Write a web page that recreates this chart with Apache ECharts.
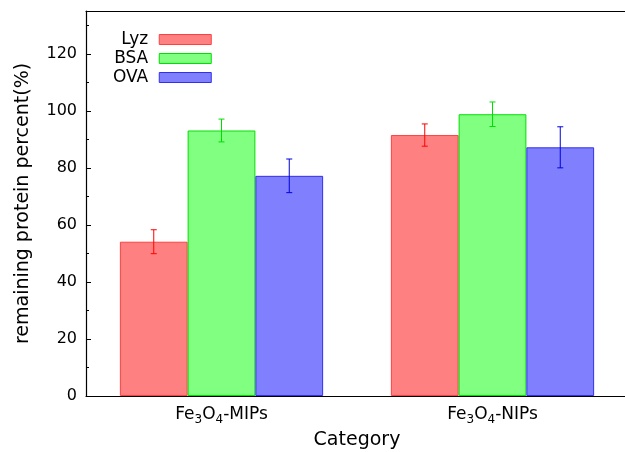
<!DOCTYPE html>
<html>
<head>
<meta charset="utf-8">
<script src="https://cdn.jsdelivr.net/npm/echarts@6/dist/echarts.min.js"></script>
<style>
  html, body { margin: 0; padding: 0; background: #fff; }
  #main { width: 625px; height: 452px; }
</style>
</head>
<body>
<div id="main"></div>
<script>
// data
var categories = ['Fe3O4-MIPs', 'Fe3O4-NIPs'];
var proteins = ['Lyz', 'BSA', 'OVA'];
var lyz = [54.1, 91.5];
var lyzErr = [4.2, 3.9];
var bsa = [93.1, 98.8];
var bsaErr = [4.0, 4.3];
var ova = [77.2, 87.2];
var ovaErr = [5.9, 7.2];
var yTicks = [0, 20, 40, 60, 80, 100, 120];

var fills = ['#ff8080', '#80ff80', '#8080ff'];
var borders = ['#ff4040', '#00e000', '#3030ee'];
var errColors = ['#ff0000', '#00dd00', '#0000dd'];
var FONT = 'DejaVu Sans';

var myChart = echarts.init(document.getElementById('main'));

function errSeries(idx, vals, errs) {
    return {
        type: 'custom',
        name: proteins[idx] + ' err',
        z: 5,
        data: vals.map(function (v, i) { return [i, v, errs[i]]; }),
        renderItem: function (params, api) {
            var ci = api.value(0);
            var v = api.value(1);
            var e = api.value(2);
            var band = api.size([1, 0])[0];
            var off = (idx - 1) * band * 0.25;
            var top = api.coord([ci, v + e]);
            var bot = api.coord([ci, v - e]);
            var x = top[0] + off;
            var cap = 3;
            var st = { stroke: errColors[idx], lineWidth: 1 };
            return {
                type: 'group',
                children: [
                    { type: 'line', shape: { x1: x, y1: top[1], x2: x, y2: bot[1] }, style: st },
                    { type: 'line', shape: { x1: x - cap, y1: top[1], x2: x + cap, y2: top[1] }, style: st },
                    { type: 'line', shape: { x1: x - cap, y1: bot[1], x2: x + cap, y2: bot[1] }, style: st }
                ]
            };
        }
    };
}

function barSeries(idx, vals) {
    return {
        type: 'bar',
        name: proteins[idx],
        data: vals,
        barGap: '0%',
        barCategoryGap: '25%',
        itemStyle: { color: fills[idx], borderColor: borders[idx], borderWidth: 1 }
    };
}

var option = {
    backgroundColor: '#fff',
    animation: false,
    textStyle: { fontFamily: FONT },
    grid: { left: 86, top: 11, width: 542, height: 385, outerBoundsMode: 'none' },
    legend: {
        orient: 'vertical',
        left: 108,
        top: 26,
        align: 'right',
        icon: 'rect',
        itemWidth: 52,
        itemHeight: 10,
        itemGap: 2,
        data: proteins,
        itemStyle: { borderWidth: 1 },
        textStyle: { fontFamily: FONT, fontSize: 17, color: '#000', padding: [0, 6, 0, 0] }
    },
    xAxis: [{
        type: 'category',
        data: categories,
        name: 'Category',
        nameLocation: 'middle',
        nameGap: 35,
        nameTextStyle: { fontFamily: FONT, fontSize: 19, color: '#000' },
        axisLine: { lineStyle: { color: '#000', width: 1.2 } },
        axisTick: { show: false },
        axisLabel: {
            interval: 0,
            hideOverlap: false,
            margin: 8,
            color: '#000',
            fontSize: 17,
            fontFamily: FONT,
            formatter: function (s) {
                var p = s.split('-');
                return 'Fe{sub|3}O{sub|4}-' + p[1];
            },
            rich: {
                sub: { fontSize: 12, verticalAlign: 'bottom', padding: [10, 0, 0, 0], fontFamily: FONT, color: '#000' }
            }
        }
    }, {
        type: 'category',
        position: 'top',
        data: categories,
        axisLine: { lineStyle: { color: '#000', width: 1.2 } },
        axisTick: { show: false },
        axisLabel: { show: false }
    }],
    yAxis: {
        type: 'value',
        min: yTicks[0],
        max: 135,
        interval: yTicks[1] - yTicks[0],
        name: 'remaining protein percent(%)',
        nameLocation: 'middle',
        nameGap: 53,
        nameTextStyle: { fontFamily: FONT, fontSize: 19, color: '#000' },
        axisLine: { show: true, lineStyle: { color: '#000', width: 1.2 } },
        axisTick: { show: true, inside: true, length: 5, lineStyle: { color: '#000' } },
        minorTick: { show: true, splitNumber: 2, length: 3, lineStyle: { color: '#000' } },
        splitLine: { show: false },
        axisLabel: {
            margin: 9,
            color: '#000',
            fontSize: 16,
            fontFamily: FONT,
            showMaxLabel: false
        }
    },
    series: [
        barSeries(0, lyz),
        barSeries(1, bsa),
        barSeries(2, ova),
        errSeries(0, lyz, lyzErr),
        errSeries(1, bsa, bsaErr),
        errSeries(2, ova, ovaErr)
    ]
};

myChart.setOption(option);
</script>
</body>
</html>
